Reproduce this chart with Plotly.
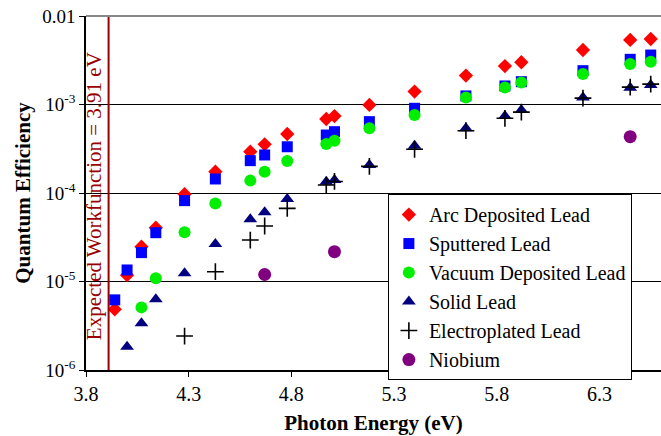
import plotly.graph_objects as go

# ---- data ----
e_arc = [3.94, 4.00, 4.07, 4.14, 4.28, 4.43, 4.60, 4.67, 4.78, 4.97, 5.01, 5.18, 5.40, 5.65, 5.84, 5.92, 6.22, 6.45, 6.55]
q_arc = [4.85e-6, 1.18e-5, 2.47e-5, 4.06e-5, 9.7e-5, 1.74e-4, 2.93e-4, 3.55e-4, 4.64e-4, 6.86e-4, 7.4e-4, 9.9e-4, 1.4e-3, 2.12e-3, 2.72e-3, 3.0e-3, 4.13e-3, 5.36e-3, 5.5e-3]

e_sput = [3.94, 4.00, 4.07, 4.14, 4.28, 4.43, 4.60, 4.67, 4.78, 4.97, 5.01, 5.18, 5.40, 5.65, 5.84, 5.92, 6.22, 6.45, 6.55]
q_sput = [6.2e-6, 1.35e-5, 2.12e-5, 3.56e-5, 8.2e-5, 1.44e-4, 2.32e-4, 2.69e-4, 3.33e-4, 4.52e-4, 4.93e-4, 6.4e-4, 9.06e-4, 1.25e-3, 1.62e-3, 1.81e-3, 2.41e-3, 3.24e-3, 3.62e-3]

e_vac = [4.07, 4.14, 4.28, 4.43, 4.60, 4.67, 4.78, 4.97, 5.01, 5.18, 5.40, 5.65, 5.84, 5.92, 6.22, 6.45, 6.55]
q_vac = [5.1e-6, 1.09e-5, 3.6e-5, 7.6e-5, 1.38e-4, 1.74e-4, 2.3e-4, 3.58e-4, 3.9e-4, 5.4e-4, 7.6e-4, 1.2e-3, 1.56e-3, 1.77e-3, 2.21e-3, 2.87e-3, 3.05e-3]

e_solid = [4.00, 4.07, 4.14, 4.28, 4.43, 4.60, 4.67, 4.78, 4.97, 5.01, 5.18, 5.40, 5.65, 5.84, 5.92, 6.22, 6.45, 6.55]
q_solid = [1.83e-6, 3.37e-6, 6.3e-6, 1.24e-5, 2.65e-5, 5.05e-5, 6.05e-5, 8.55e-5, 1.34e-4, 1.4e-4, 2.07e-4, 3.43e-4, 5.4e-4, 7.4e-4, 8.67e-4, 1.2e-3, 1.55e-3, 1.66e-3]

e_elec = [4.28, 4.43, 4.60, 4.67, 4.78, 4.97, 5.01, 5.18, 5.40, 5.65, 5.84, 5.92, 6.22, 6.45, 6.55]
q_elec = [2.42e-6, 1.29e-5, 2.94e-5, 4.24e-5, 6.7e-5, 1.23e-4, 1.35e-4, 2.0e-4, 3.12e-4, 5.06e-4, 6.98e-4, 8.2e-4, 1.18e-3, 1.57e-3, 1.7e-3]

e_nb = [4.67, 5.01, 6.45]
q_nb = [1.2e-5, 2.17e-5, 4.33e-4]

workfunction = 3.91
x_ticks = [3.8, 4.3, 4.8, 5.3, 5.8, 6.3]
y_tickvals = [1e-6, 1e-5, 1e-4, 1e-3, 1e-2]
y_ticktext = ["10<sup>-6</sup>", "10<sup>-5</sup>", "10<sup>-4</sup>", "10<sup>-3</sup>", "0.01"]

FONT = "Liberation Serif, Times New Roman, serif"

fig = go.Figure()
series = [
    ("Arc Deposited Lead", e_arc, q_arc, dict(symbol="diamond", color="#FF0000", size=11)),
    ("Sputtered Lead", e_sput, q_sput, dict(symbol="square", color="#0000FF", size=11)),
    ("Vacuum Deposited Lead", e_vac, q_vac, dict(symbol="circle", color="#00EE00", size=12)),
    ("Solid Lead", e_solid, q_solid, dict(symbol="triangle-up", color="#000080", size=12)),
    ("Electroplated Lead", e_elec, q_elec, dict(symbol="cross-thin", color="#000000", size=12,
                                                line=dict(color="#000000", width=1.6))),
    ("Niobium", e_nb, q_nb, dict(symbol="circle", color="#800080", size=13)),
]
for name, x, y, mk in series:
    fig.add_trace(go.Scatter(x=x, y=y, mode="markers", name=name, marker=mk))

fig.add_shape(type="line", xref="x", yref="paper", x0=workfunction, x1=workfunction,
              y0=0, y1=1, line=dict(color="#990000", width=2))
fig.add_shape(type="line", xref="paper", yref="paper", x0=0, x1=1, y0=1, y1=1,
              line=dict(color="#888888", width=2))
fig.add_annotation(xref="x", yref="paper", x=workfunction, y=0.49, xanchor="right",
                   yanchor="middle", xshift=-1, textangle=-90, showarrow=False,
                   text="Expected Workfunction = 3.91 eV",
                   font=dict(family=FONT, size=21, color="#990000"))

fig.update_layout(
    width=661, height=436,
    margin=dict(l=86, r=0, t=16, b=66),
    paper_bgcolor="white", plot_bgcolor="white",
    font=dict(family=FONT, size=19, color="black"),
    showlegend=True,
    legend=dict(x=0.525, y=0.497, xanchor="left", yanchor="top",
                bgcolor="white", bordercolor="black", borderwidth=1,
                font=dict(family=FONT, size=20), tracegroupgap=0, itemsizing="trace"),
    xaxis=dict(range=[3.8, 6.6], tickvals=x_ticks, ticktext=[f"{v:.1f}" for v in x_ticks],
               tickfont=dict(family=FONT, size=20),
               showgrid=False, zeroline=False, showline=True, linecolor="black", linewidth=1.5,
               ticks="outside", ticklen=5, tickcolor="black",
               title=dict(text="<b>Photon Energy (eV)</b>", font=dict(family=FONT, size=21), standoff=12)),
    yaxis=dict(type="log", range=[-6, -2], tickvals=y_tickvals, ticktext=y_ticktext,
               tickfont=dict(family=FONT, size=19),
               showgrid=True, gridcolor="black", gridwidth=1, zeroline=False,
               showline=True, linecolor="black", linewidth=1.5,
               ticks="outside", ticklen=5, tickcolor="black",
               title=dict(text="<b>Quantum Efficiency</b>", font=dict(family=FONT, size=21), standoff=6)),
)

fig.write_html("out.html")
